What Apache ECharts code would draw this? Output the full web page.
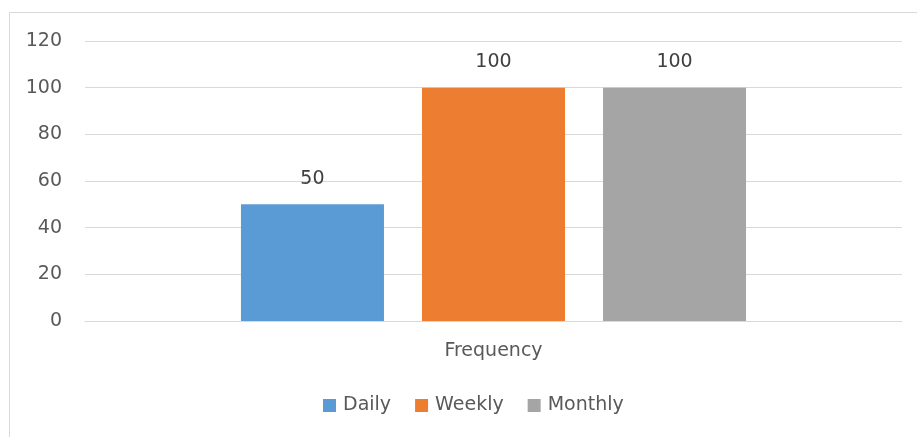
<!DOCTYPE html>
<html><head><meta charset="utf-8">
<script src="https://cdn.jsdelivr.net/npm/echarts@6/dist/echarts.min.js"></script>
<style>html,body{margin:0;padding:0;background:#fff}#c{width:917px;height:437px}</style>
</head><body><div id="c"></div>
<script>
const categories = ['Frequency'];
const seriesNames = ['Daily', 'Weekly', 'Monthly'];
const dailyValues = [50];
const weeklyValues = [100];
const monthlyValues = [100];
const yTicks = { min: 0, max: 120, interval: 20 };
const colors = ['#5B9BD5', '#ED7D31', '#A5A5A5'];
const FONT = 'DejaVu Sans';
const FS = 19;
const chart = echarts.init(document.getElementById('c'));
const data = [dailyValues, weeklyValues, monthlyValues];
chart.setOption({
  animation: false,
  textStyle: { fontFamily: FONT },
  graphic: [{ type: 'rect', shape: { x: 9.5, y: 12.5, width: 950, height: 500 }, style: { fill: 'none', stroke: '#d9d9d9', lineWidth: 1 }, z: -1 }],
  grid: { left: 85, right: 15, top: 41, bottom: 116, containLabel: false },
  legend: {
    top: 396, left: 323, padding: 0, itemWidth: 13, itemHeight: 13, itemGap: 24,
    icon: 'rect', textStyle: { fontFamily: FONT, fontSize: FS, color: '#595959', padding: [0, 0, 0, 2] },
    data: seriesNames
  },
  xAxis: {
    type: 'category', data: categories,
    axisLine: { lineStyle: { color: '#d9d9d9', width: 1 } },
    axisTick: { show: false },
    axisLabel: { fontFamily: FONT, fontSize: FS, color: '#595959', margin: 21 }
  },
  yAxis: {
    type: 'value', min: yTicks.min, max: yTicks.max, interval: yTicks.interval,
    axisLine: { show: false }, axisTick: { show: false },
    splitLine: { lineStyle: { color: '#d9d9d9', width: 1 } },
    axisLabel: { fontFamily: FONT, fontSize: FS, color: '#595959', margin: 23 }
  },
  series: seriesNames.map((n, i) => ({
    name: n, type: 'bar', data: data[i], barWidth: 143, barGap: '26.6%',
    itemStyle: { color: colors[i] },
    label: { show: true, position: 'top', distance: 16, fontFamily: FONT, fontSize: FS, color: '#404040' }
  }))
});
</script></body></html>
